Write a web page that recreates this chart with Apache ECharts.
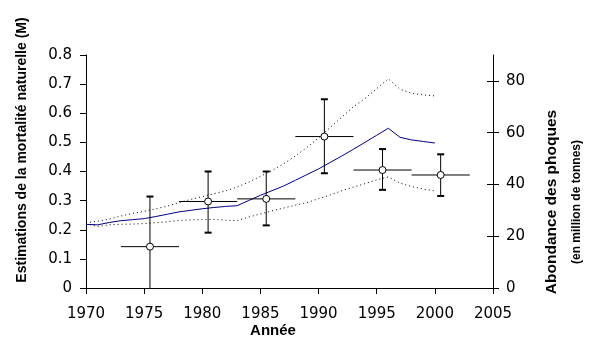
<!DOCTYPE html>
<html>
<head>
<meta charset="utf-8">
<script src="https://cdn.jsdelivr.net/npm/echarts@6/dist/echarts.min.js"></script>
<style>
  html, body { margin: 0; padding: 0; background: #fff; }
  #main { width: 593px; height: 352px; }
</style>
</head>
<body>
<div id="main"></div>
<script>
// années pour les courbes d'abondance
var years = [1970, 1971, 1972, 1973, 1974, 1975, 1976, 1977, 1978, 1979,
  1980, 1981, 1982, 1983, 1984, 1985, 1986, 1987, 1988, 1989,
  1990, 1991, 1992, 1993, 1994, 1995, 1996, 1997, 1998, 1999, 2000];
// abondance des phoques (axe de droite)
var abondance = [24.6, 24.4, 25.3, 26.0, 26.4, 26.8, 27.6, 28.5, 29.4, 30.0,
  30.6, 31.1, 31.5, 31.8, 33.8, 35.8, 37.6, 39.4, 41.6, 43.8,
  46.0, 48.5, 51.0, 53.6, 56.3, 59.0, 61.7, 58.2, 57.2, 56.6, 56.0];
var abondanceHaut = [25.2, 25.8, 26.6, 27.8, 28.8, 29.6, 30.6, 31.6, 33.0, 34.2,
  35.3, 36.4, 37.5, 39.0, 40.9, 43.1, 45.4, 48.0, 51.0, 54.3,
  58.0, 62.0, 66.0, 70.0, 73.2, 77.0, 80.8, 76.8, 75.2, 74.6, 74.2];
var abondanceBas = [24.8, 23.8, 24.4, 24.6, 24.7, 24.9, 25.2, 25.6, 26.1, 26.3,
  26.4, 26.5, 26.2, 26.0, 27.4, 28.6, 29.8, 30.9, 32.0, 33.0,
  34.5, 35.9, 37.6, 39.0, 40.3, 41.8, 42.9, 40.5, 39.2, 38.2, 37.5];

// estimations de M (axe de gauche)
var mYears = [1975.5, 1980.5, 1985.5, 1990.5, 1995.5, 2000.5];
var mValues = [0.142, 0.297, 0.306, 0.52, 0.405, 0.388];
var mLow = [-0.03, 0.19, 0.215, 0.394, 0.337, 0.316];
var mHigh = [0.314, 0.40, 0.40, 0.648, 0.477, 0.459];
var xHalf = [2.5, 2.5, 2.5, 2.5, 2.5, 2.5];

var rightTicks = [0, 20, 40, 60, 80];

(function () {
  var chart = echarts.init(document.getElementById('main'));

  function pairs(xs, ys) {
    return xs.map(function (x, i) { return [x, ys[i]]; });
  }

  var tickFont = {
    color: '#000',
    fontFamily: 'DejaVu Sans',
    fontSize: 15
  };
  var titleFont = '"Liberation Sans", Arial, sans-serif';

  var option = {
    backgroundColor: '#fff',
    animation: false,
    grid: {
      left: 86,
      right: 100,
      top: 55,
      bottom: 64
    },
    xAxis: {
      type: 'value',
      min: 1970,
      max: 2005,
      interval: 5,
      axisLine: { lineStyle: { color: '#000', width: 1 } },
      axisTick: { length: 6, lineStyle: { color: '#000' } },
      axisLabel: Object.assign({
        margin: 19,
        formatter: function (v) { return String(v); }
      }, tickFont),
      splitLine: { show: false }
    },
    yAxis: [
      {
        type: 'value',
        min: 0,
        max: 0.8,
        interval: 0.1,
        axisLine: { show: true, lineStyle: { color: '#000' } },
        axisTick: { show: true, length: 6, lineStyle: { color: '#000' } },
        axisLabel: Object.assign({ margin: 14 }, tickFont),
        splitLine: { show: false }
      },
      {
        type: 'value',
        position: 'right',
        min: 0,
        max: 90,
        axisLine: { show: true, lineStyle: { color: '#000' } },
        axisTick: { show: true, length: 6, customValues: rightTicks, lineStyle: { color: '#000' } },
        axisLabel: Object.assign({ margin: 13, customValues: rightTicks }, tickFont),
        splitLine: { show: false }
      },
      {
        // ticks qui traversent l'axe de droite
        type: 'value',
        position: 'right',
        min: 0,
        max: 90,
        axisLine: { show: false },
        axisTick: { show: true, inside: true, length: 6, customValues: rightTicks, lineStyle: { color: '#000' } },
        axisLabel: { show: false },
        splitLine: { show: false }
      }
    ],
    graphic: [
      {
        type: 'text',
        x: 22, y: 150,
        rotation: Math.PI / 2,
        style: {
          text: 'Estimations de la mortalité naturelle (M)',
          fill: '#000',
          font: 'bold 14px ' + titleFont,
          align: 'center',
          verticalAlign: 'middle'
        }
      },
      {
        type: 'text',
        x: 273, y: 331,
        style: {
          text: 'Année',
          fill: '#000',
          font: 'bold 15px ' + titleFont,
          align: 'center',
          verticalAlign: 'middle'
        }
      },
      {
        type: 'text',
        x: 552, y: 202,
        rotation: Math.PI / 2,
        style: {
          text: 'Abondance des phoques',
          fill: '#000',
          font: 'bold 15.5px ' + titleFont,
          align: 'center',
          verticalAlign: 'middle'
        }
      },
      {
        type: 'text',
        x: 577, y: 202,
        rotation: Math.PI / 2,
        style: {
          text: '(en million de tonnes)',
          fill: '#000',
          font: 'bold 12px ' + titleFont,
          align: 'center',
          verticalAlign: 'middle'
        }
      }
    ],
    series: [
      {
        name: 'haut',
        type: 'line',
        yAxisIndex: 1,
        data: pairs(years, abondanceHaut),
        symbol: 'none',
        lineStyle: { color: '#000', width: 1, type: [1, 3] }
      },
      {
        name: 'bas',
        type: 'line',
        yAxisIndex: 1,
        data: pairs(years, abondanceBas),
        symbol: 'none',
        lineStyle: { color: '#000', width: 1, type: [1, 3] }
      },
      {
        name: 'abondance',
        type: 'line',
        yAxisIndex: 1,
        data: pairs(years, abondance),
        symbol: 'none',
        lineStyle: { color: '#000080', width: 1 }
      },
      {
        name: 'erreurs',
        type: 'custom',
        clip: true,
        z: 5,
        data: mYears.map(function (x, i) {
          return [x, mValues[i], mLow[i], mHigh[i], xHalf[i]];
        }),
        renderItem: function (params, api) {
          var x = api.value(0), y = api.value(1);
          var lo = api.coord([x, api.value(2)]);
          var hi = api.coord([x, api.value(3)]);
          var left = api.coord([x - api.value(4), y]);
          var right = api.coord([x + api.value(4), y]);
          var cap = 3.5;
          var st = { stroke: '#000', lineWidth: 1 };
          var capSt = { stroke: '#000', lineWidth: 2 };
          return {
            type: 'group',
            children: [
              { type: 'line', shape: { x1: lo[0], y1: lo[1], x2: hi[0], y2: hi[1] }, style: st },
              { type: 'line', shape: { x1: hi[0] - cap, y1: hi[1], x2: hi[0] + cap, y2: hi[1] }, style: capSt },
              { type: 'line', shape: { x1: lo[0] - cap, y1: lo[1], x2: lo[0] + cap, y2: lo[1] }, style: capSt },
              { type: 'line', shape: { x1: left[0], y1: left[1], x2: right[0], y2: right[1] }, style: st }
            ]
          };
        }
      },
      {
        name: 'M',
        type: 'scatter',
        z: 10,
        data: pairs(mYears, mValues),
        symbol: 'circle',
        symbolSize: 7,
        itemStyle: { color: '#fff', borderColor: '#000', borderWidth: 1, opacity: 1 }
      }
    ]
  };

  chart.setOption(option);
  window.addEventListener('resize', function () {
    chart.resize();
  });
})();
</script>
</body>
</html>
